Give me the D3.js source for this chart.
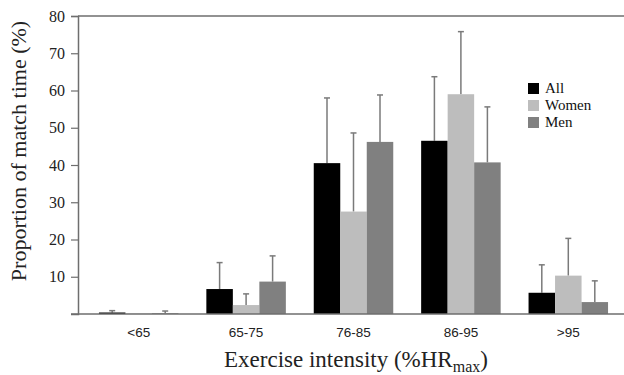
<!DOCTYPE html>
<html>
<head>
<meta charset="utf-8">
<script src="https://cdn.jsdelivr.net/npm/d3@7"></script>
<style>
  body { margin: 0; background: #fff; }
  svg { display: block; }
</style>
</head>
<body>
<div id="chart"></div>
<script>
// data
const categories = ["<65", "65-75", "76-85", "86-95", ">95"];
const groups = ["All", "Women", "Men"];
const allMean = [0.4, 6.7, 40.5, 46.5, 5.7];
const allSD = [0.5, 7.1, 17.5, 17.2, 7.5];
const womenMean = [0.1, 2.4, 27.5, 59.0, 10.3];
const womenSD = [0.0, 3.0, 21.1, 16.8, 10.0];
const menMean = [0.2, 8.7, 46.2, 40.7, 3.2];
const menSD = [0.6, 6.9, 12.6, 14.9, 5.7];
const yTicks = [10, 20, 30, 40, 50, 60, 70, 80];

const colors = { All: "#000000", Women: "#bdbdbd", Men: "#808080" };

// build long-format rows
const means = { All: allMean, Women: womenMean, Men: menMean };
const sds = { All: allSD, Women: womenSD, Men: menSD };
const rows = [];
categories.forEach((c, i) => {
    groups.forEach(g => rows.push({ cat: c, group: g, value: means[g][i], sd: sds[g][i] }));
});

const width = 624, height = 375;
const plot = { left: 78, right: 624, top: 16, bottom: 314 };

const svg = d3.select("#chart").append("svg")
    .attr("width", width)
    .attr("height", height);

const x = d3.scaleBand()
    .domain(categories)
    .range([85, 622])
    .paddingInner(0)
    .paddingOuter(0);

const y = d3.scaleLinear()
    .domain([0, 80])
    .range([plot.bottom, plot.top]);

// fixed bar width ~26.5px centred in each band
const barW = 26.5;
const groupOffset = g => x.bandwidth() / 2 + (groups.indexOf(g) - 1.5) * barW;

// error bars (behind bars)
const err = svg.append("g").attr("stroke", "#7a7a7a").attr("stroke-width", 1.5);
rows.filter(d => d.sd > 0).forEach(d => {
    const cx = x(d.cat) + groupOffset(d.group) + barW / 2;
    err.append("line")
        .attr("x1", cx).attr("x2", cx)
        .attr("y1", y(d.value)).attr("y2", y(d.value + d.sd));
    err.append("line")
        .attr("x1", cx - 3).attr("x2", cx + 3)
        .attr("y1", y(d.value + d.sd)).attr("y2", y(d.value + d.sd));
});

// bars
svg.append("g")
    .selectAll("rect")
    .data(rows)
    .enter().append("rect")
    .attr("x", d => x(d.cat) + groupOffset(d.group))
    .attr("y", d => y(d.value))
    .attr("width", barW)
    .attr("height", d => y(0) - y(d.value))
    .attr("fill", d => colors[d.group]);

// top frame line
svg.append("line")
    .attr("x1", plot.left).attr("x2", plot.right)
    .attr("y1", y(80)).attr("y2", y(80))
    .attr("stroke", "#6e6e6e").attr("stroke-width", 1.5);

// y axis
const yAxis = svg.append("g")
    .attr("transform", `translate(${plot.left},0)`)
    .call(d3.axisLeft(y).tickValues(yTicks).tickSize(7).tickPadding(6));
yAxis.select(".domain").attr("stroke", "#6e6e6e").attr("stroke-width", 1.5);
yAxis.selectAll(".tick line").attr("stroke", "#6e6e6e").attr("stroke-width", 1.2);
yAxis.selectAll("text")
    .attr("fill", "#222")
    .style("font-family", "'Liberation Serif', 'Times New Roman', serif")
    .style("font-size", "16px");

// x axis
const xAxis = svg.append("g")
    .attr("transform", `translate(0,${plot.bottom})`)
    .call(d3.axisBottom(x).tickSize(0).tickPadding(13));
xAxis.select(".domain").remove();
xAxis.selectAll("text")
    .attr("fill", "#222")
    .style("font-family", "'Liberation Sans', Arial, sans-serif")
    .style("font-size", "13.5px");
svg.append("line")
    .attr("x1", plot.left - 7).attr("x2", plot.right)
    .attr("y1", plot.bottom).attr("y2", plot.bottom)
    .attr("stroke", "#6e6e6e").attr("stroke-width", 1.5);

// axis labels
svg.append("text")
    .attr("transform", `translate(26,151) rotate(-90)`)
    .attr("text-anchor", "middle")
    .attr("fill", "#222")
    .style("font-family", "'Liberation Serif', 'Times New Roman', serif")
    .style("font-size", "22px")
    .text("Proportion of match time (%)");

const xl = svg.append("text")
    .attr("x", 356)
    .attr("y", 367)
    .attr("text-anchor", "middle")
    .attr("fill", "#222")
    .style("font-family", "'Liberation Serif', 'Times New Roman', serif")
    .style("font-size", "23px");
xl.append("tspan").text("Exercise intensity (%HR");
xl.append("tspan").attr("dy", 5).style("font-size", "16px").text("max");
xl.append("tspan").attr("dy", -5).text(")");

// legend
const legend = svg.append("g").attr("transform", "translate(528,83)");
groups.forEach((g, i) => {
    const row = legend.append("g").attr("transform", `translate(0,${i * 17})`);
    row.append("rect")
        .attr("width", 11).attr("height", 11)
        .attr("fill", colors[g]);
    row.append("text")
        .attr("x", 17).attr("y", 10)
        .attr("fill", "#111")
        .style("font-family", "'Liberation Serif', 'Times New Roman', serif")
        .style("font-size", "15px")
        .text(g);
});
</script>
</body>
</html>
